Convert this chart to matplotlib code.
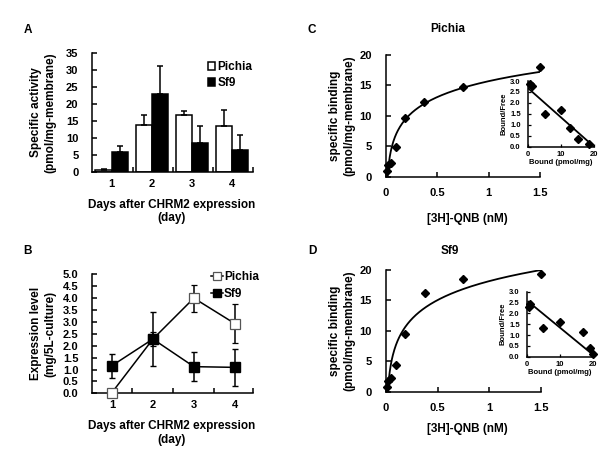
import matplotlib
matplotlib.use('Agg')
import matplotlib.pyplot as plt
import numpy as np

plt.rcParams['font.family'] = ['Liberation Sans', 'DejaVu Sans']
plt.rcParams['font.weight'] = 'bold'
plt.rcParams['axes.labelweight'] = 'bold'
plt.rcParams['axes.linewidth'] = 1.1

# Panel A: specific activity (bar chart)
days = [1, 2, 3, 4]
act_pichia = [0.8, 13.7, 16.9, 13.5]
act_pichia_err = [0.2, 3.2, 1.0, 4.6]
act_sf9 = [6.0, 23.0, 8.7, 6.6]
act_sf9_err = [1.6, 8.0, 4.9, 4.4]

# Panel B: expression level
expr_pichia = [0.03, 2.28, 4.0, 2.93]
expr_pichia_err = [0.0, 0.3, 0.57, 0.82]
expr_sf9 = [1.16, 2.28, 1.12, 1.09]
expr_sf9_err = [0.5, 1.15, 0.62, 0.78]

# Panels C/D: saturation binding
qnb = [0.0117, 0.0234, 0.0469, 0.0938, 0.1875, 0.375, 0.75, 1.5]
bind_pichia = [0.9, 1.9, 2.3, 4.9, 9.7, 12.3, 14.7, 18.1]
bind_sf9 = [0.7, 1.8, 2.2, 4.4, 9.5, 16.3, 18.6, 19.3]

# Scatchard insets
sc_bound_pichia = [0.8, 1.2, 5.2, 10.0, 12.8, 15.0, 18.4]
sc_ratio_pichia = [2.85, 2.75, 1.48, 1.69, 0.87, 0.33, 0.12]
sc_line_pichia_x = [0.2, 19.7]
sc_line_pichia_y = [2.66, 0.03]
sc_bound_sf9 = [0.8, 1.0, 5.0, 10.0, 16.8, 19.0, 20.0]
sc_ratio_sf9 = [2.3, 2.45, 1.31, 1.62, 1.12, 0.42, 0.12]
sc_line_sf9_x = [0.5, 20.0]
sc_line_sf9_y = [2.54, 0.08]

TICK = 8
LAB = 8.5

fig = plt.figure(figsize=(6, 4.5), dpi=100)


def base_axes(ax):
    ax.spines['top'].set_visible(False)
    ax.spines['right'].set_visible(False)
    ax.tick_params(direction='in', length=3.5, width=1.1, labelsize=TICK)


# ---- A ----
axA = fig.add_axes([0.1538, 0.6171, 0.2683, 0.2658])
base_axes(axA)
x = np.array(days)
w = 0.4
axA.bar(x - w / 2, act_pichia, w, color='white', edgecolor='black', linewidth=1.1,
        yerr=[np.zeros(4), act_pichia_err], error_kw=dict(ecolor='black', elinewidth=1.1, capsize=2, capthick=1.1),
        label='Pichia')
axA.bar(x + w / 2, act_sf9, w, color='black', edgecolor='black', linewidth=1.1,
        yerr=[np.zeros(4), act_sf9_err], error_kw=dict(ecolor='black', elinewidth=1.1, capsize=2, capthick=1.1),
        label='Sf9')
axA.set_xlim(0.52, 4.52)
axA.set_ylim(0, 35)
axA.set_yticks(range(0, 36, 5))
axA.set_xticks(days)
axA.set_xticks([1.52, 2.52, 3.52, 4.52], minor=True)
axA.tick_params(axis='x', which='major', length=0, pad=5)
axA.tick_params(axis='x', which='minor', direction='in', length=3.5, width=1.1)
axA.tick_params(axis='y', pad=10)
axA.set_ylabel('Specific activity\n(pmol/mg-membrane)', fontsize=LAB, linespacing=1.2)
axA.yaxis.set_label_coords(-0.225, 0.5)
axA.set_xlabel('Days after CHRM2 expression\n(day)', fontsize=LAB, linespacing=1.2)
axA.xaxis.set_label_coords(0.495, -0.22)
axA.legend(loc='upper left', bbox_to_anchor=(0.68, 0.98), frameon=False, fontsize=LAB,
           handlelength=0.65, handleheight=0.65, handletextpad=0.2, labelspacing=0.35, borderpad=0)

# ---- B ----
axB = fig.add_axes([0.1538, 0.126, 0.2683, 0.2644])
base_axes(axB)
axB.errorbar(days, expr_pichia, yerr=expr_pichia_err, color='black', lw=1.1, marker='s', ms=6.5,
             mfc='white', mec='#555555', mew=0.9, capsize=2, elinewidth=1.1, clip_on=False,
             label='Pichia', zorder=3)
axB.errorbar(days, expr_sf9, yerr=expr_sf9_err, color='black', lw=1.1, marker='s', ms=6.5,
             mfc='black', mec='black', capsize=2, elinewidth=1.1, clip_on=False,
             label='Sf9', zorder=4)
axB.set_xlim(0.52, 4.45)
axB.set_ylim(0, 5)
axB.set_yticks(np.arange(0, 5.01, 0.5))
axB.set_yticklabels(['%.1f' % v for v in np.arange(0, 5.01, 0.5)])
axB.set_xticks(days)
axB.set_xticks([1.5, 2.5, 3.5, 4.45], minor=True)
axB.tick_params(axis='x', which='major', length=0, pad=5)
axB.tick_params(axis='x', which='minor', direction='in', length=3.5, width=1.1)
axB.tick_params(axis='y', pad=10)
axB.set_ylabel('Expression level\n(mg/5L-culture)', fontsize=LAB, linespacing=1.2)
axB.yaxis.set_label_coords(-0.225, 0.5)
axB.set_xlabel('Days after CHRM2 expression\n(day)', fontsize=LAB, linespacing=1.2)
axB.xaxis.set_label_coords(0.495, -0.225)
handles, labels = axB.get_legend_handles_labels()
axB.legend([h[0] for h in handles], labels, loc='upper left', bbox_to_anchor=(0.7, 1.08), frameon=False,
           fontsize=LAB, handlelength=1.0, handletextpad=0.1, labelspacing=0.45, borderpad=0, markerscale=0.8)


# ---- C / D ----
def binding_panel(rect, inset_rect, bind, sc_b, sc_r, line_x, line_y):
    ax = fig.add_axes(rect)
    base_axes(ax)
    fit = np.polyfit(np.log(qnb), bind, 1)
    xs = np.linspace(qnb[0], qnb[-1], 300)
    ax.plot(xs, np.polyval(fit, np.log(xs)), color='black', lw=1.3)
    ax.plot(qnb, bind, 'D', color='black', ms=4.3, clip_on=False, zorder=4)
    ax.set_xlim(0, 1.5)
    ax.set_ylim(0, 20)
    ax.set_xticks([0, 0.5, 1, 1.5])
    ax.set_xticklabels(['0', '0.5', '1', '1.5'])
    ax.set_yticks([0, 5, 10, 15, 20])
    ax.tick_params(axis='x', pad=8)
    ax.tick_params(axis='y', pad=10)
    ax.set_ylabel('specific binding\n(pmol/mg-membrane)', fontsize=LAB, linespacing=1.2)
    ax.yaxis.set_label_coords(-0.2, 0.5)
    ax.set_xlabel('[3H]-QNB (nM)', fontsize=LAB)

    ins = fig.add_axes(inset_rect)
    ins.spines['top'].set_visible(False)
    ins.spines['right'].set_visible(False)
    ins.tick_params(direction='in', length=2, width=0.9, labelsize=5.5)
    ins.plot(line_x, line_y, color='black', lw=1.3)
    ins.plot(sc_b, sc_r, 'D', color='black', ms=3.6, clip_on=False, zorder=4)
    ins.set_xlim(0, 20)
    ins.set_ylim(0, 3)
    ins.set_xticks([0, 10, 20])
    ins.set_yticks(np.arange(0, 3.01, 0.5))
    ins.set_yticklabels(['%.1f' % v for v in np.arange(0, 3.01, 0.5)])
    ins.tick_params(axis='y', pad=5)
    ins.tick_params(axis='x', pad=3)
    ins.set_xlabel('Bound (pmol/mg)', fontsize=5.5, labelpad=1)
    ins.set_ylabel('Bound/Free', fontsize=5.5, labelpad=2)
    return ax


axC = binding_panel([0.6433, 0.6073, 0.2567, 0.2704], [0.8795, 0.674, 0.111, 0.146],
                    bind_pichia, sc_bound_pichia, sc_ratio_pichia, sc_line_pichia_x, sc_line_pichia_y)
axC.xaxis.set_label_coords(0.526, -0.30)

axD = binding_panel([0.6433, 0.1296, 0.2583, 0.2704], [0.8778, 0.2073, 0.111, 0.1444],
                    bind_sf9, sc_bound_sf9, sc_ratio_sf9, sc_line_sf9_x, sc_line_sf9_y)
axD.xaxis.set_label_coords(0.526, -0.26)

# panel titles and letters
fig.text(448 / 600, 1 - 29 / 450, 'Pichia', fontsize=LAB, fontweight='bold', va='center', ha='center')
fig.text(450 / 600, 1 - 251 / 450, 'Sf9', fontsize=LAB, fontweight='bold', va='center', ha='center')
for lx, ly, s in [(28, 30, 'A'), (28, 251, 'B'), (312, 30, 'C'), (312, 251, 'D')]:
    fig.text(lx / 600, 1 - ly / 450, s, fontsize=LAB, fontweight='bold', va='center', ha='center')

fig.savefig('out.png', dpi=100)
